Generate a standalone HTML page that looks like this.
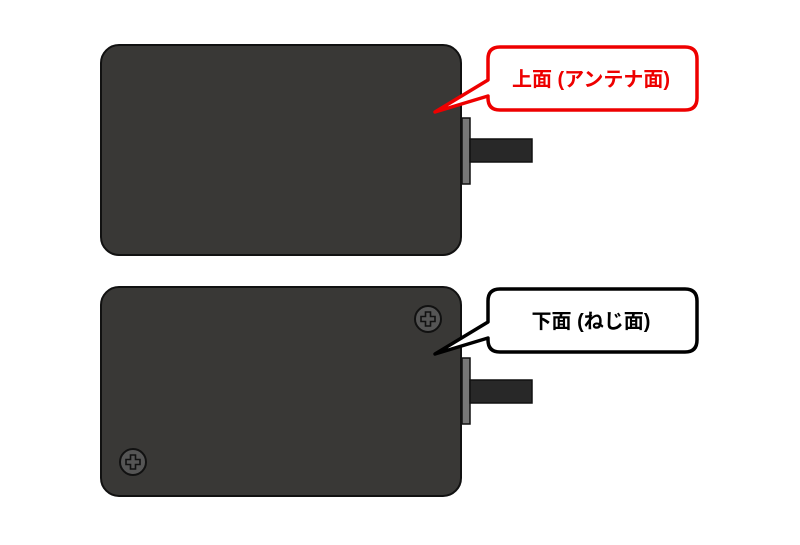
<!DOCTYPE html>
<html><head><meta charset="utf-8"><style>html,body{margin:0;padding:0;background:#fff}</style></head>
<body>
<svg width="800" height="540" xmlns="http://www.w3.org/2000/svg">
<defs>
<g id="screw">
<circle r="13" fill="#555" stroke="#111" stroke-width="2"/>
<path d="M-2.5,-7 h5 v4.5 h4.5 v5 h-4.5 v4.5 h-5 v-4.5 h-4.5 v-5 h4.5 z" fill="#555" stroke="#111" stroke-width="1.6"/>
</g>
</defs>
<!-- top -->
<rect x="462" y="118" width="8" height="66" fill="#777" stroke="#111" stroke-width="1.5"/>
<rect x="470" y="139" width="62" height="23" fill="#282828" stroke="#111" stroke-width="1.5"/>
<rect x="101" y="45" width="360" height="210" rx="18" fill="#393836" stroke="#111" stroke-width="2"/>
<path d="M500,47 H685 Q697,47 697,59 V98 Q697,110 685,110 H500 Q488,110 488,98 V96 L435,112 L488,80 V59 Q488,47 500,47 Z" fill="#fff" stroke="#e00" stroke-width="3.5" stroke-linejoin="round"/>
<text x="591" y="86" text-anchor="middle" font-family="'Liberation Sans','Noto Sans CJK JP',sans-serif" font-weight="bold" font-size="20" fill="#e00">上面 (アンテナ面)</text>
<!-- bottom -->
<rect x="462" y="358" width="8" height="66" fill="#777" stroke="#111" stroke-width="1.5"/>
<rect x="470" y="380" width="62" height="23" fill="#282828" stroke="#111" stroke-width="1.5"/>
<rect x="101" y="287" width="360" height="209" rx="18" fill="#393836" stroke="#111" stroke-width="2"/>
<use href="#screw" x="428" y="319"/>
<use href="#screw" x="133" y="462"/>
<path d="M500,289 H685 Q697,289 697,301 V340 Q697,352 685,352 H500 Q488,352 488,340 V338 L435,354 L488,322 V301 Q488,289 500,289 Z" fill="#fff" stroke="#000" stroke-width="3.5" stroke-linejoin="round"/>
<text x="591" y="328" text-anchor="middle" font-family="'Liberation Sans','Noto Sans CJK JP',sans-serif" font-weight="bold" font-size="20" fill="#000">下面 (ねじ面)</text>
</svg>
</body></html>
